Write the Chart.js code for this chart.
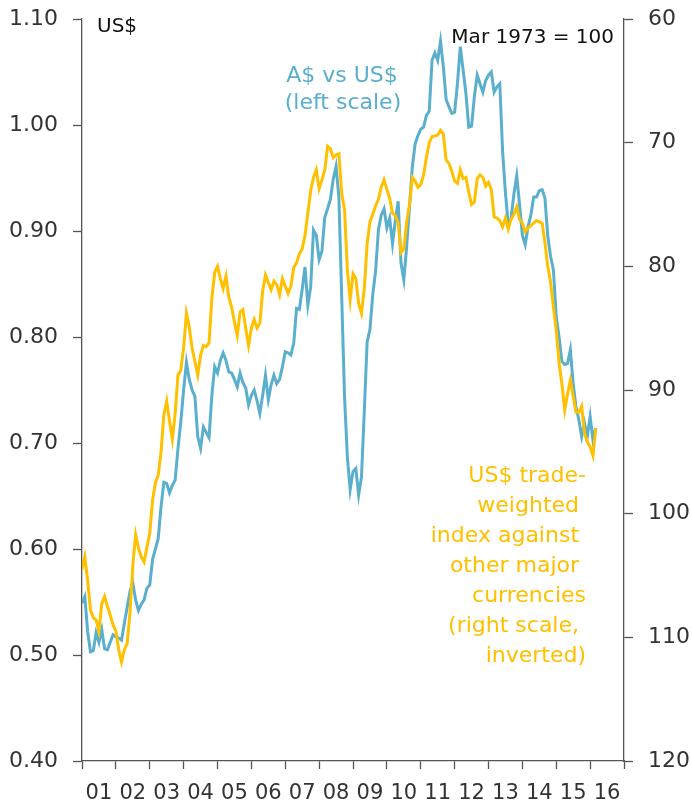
<!DOCTYPE html>
<html>
<head>
<meta charset="utf-8">
<script src="https://cdn.jsdelivr.net/npm/chart.js@4.4.1/dist/chart.umd.min.js"></script>
<style>
  html, body { margin: 0; padding: 0; background: #ffffff; }
  canvas { display: block; }
</style>
</head>
<body>
<canvas id="chart" width="692" height="807"></canvas>
<script>
// Monthly observations, January 2001 onwards
const startYear = 2001;

// A$ vs US$ (left scale, US$ per A$)
const audUsd = [
  0.549, 0.555, 0.522, 0.503, 0.504, 0.521, 0.512, 0.524, 0.506, 0.505, 0.512, 0.519,
  0.517, 0.516, 0.514, 0.530, 0.545, 0.560, 0.568, 0.552, 0.542, 0.548, 0.552, 0.563,
  0.566, 0.590, 0.600, 0.610, 0.640, 0.663, 0.662, 0.653, 0.660, 0.665, 0.695, 0.720,
  0.750, 0.776, 0.760, 0.750, 0.744, 0.706, 0.695, 0.715, 0.710, 0.705, 0.745, 0.772,
  0.766, 0.778, 0.785, 0.778, 0.767, 0.766, 0.760, 0.753, 0.766, 0.757, 0.752, 0.736,
  0.745, 0.750, 0.740, 0.728, 0.745, 0.764, 0.741, 0.755, 0.764, 0.756, 0.760, 0.772,
  0.786, 0.785, 0.783, 0.794, 0.827, 0.826, 0.845, 0.866, 0.830, 0.847, 0.901, 0.896,
  0.873, 0.881, 0.913, 0.921, 0.930, 0.949, 0.961, 0.932, 0.838, 0.744, 0.687, 0.656,
  0.673, 0.676, 0.651, 0.668, 0.730, 0.795, 0.807, 0.840, 0.862, 0.901, 0.915, 0.921,
  0.903, 0.912, 0.888, 0.910, 0.928, 0.870, 0.854, 0.885, 0.922, 0.960, 0.982, 0.990,
  0.996, 0.998, 1.009, 1.013, 1.061, 1.068, 1.061, 1.079, 1.055, 1.024, 1.017, 1.011,
  1.012, 1.039, 1.074, 1.052, 1.030, 0.998, 0.999, 1.027, 1.047, 1.039, 1.031, 1.042,
  1.047, 1.050, 1.031, 1.036, 1.039, 0.975, 0.936, 0.906, 0.912, 0.935, 0.952, 0.925,
  0.896, 0.887, 0.904, 0.915, 0.932, 0.932, 0.938, 0.939, 0.931, 0.895, 0.876, 0.863,
  0.819, 0.800, 0.777, 0.774, 0.775, 0.788, 0.756, 0.734, 0.722, 0.706, 0.719, 0.706,
  0.725, 0.703, 0.714
];

// US$ trade-weighted index against other major currencies (Mar 1973 = 100), right scale inverted
const usdTwi = [
  104.5, 103.5, 105.4, 107.8, 108.4, 108.6, 109.5, 107.3, 106.7, 107.5, 108.2, 109.0,
  109.5, 111.0, 112.0, 111.0, 110.5, 108.0, 104.2, 101.7, 102.8, 103.5, 103.9, 102.7,
  101.6, 98.9, 97.5, 96.9, 95.0, 92.0, 90.9, 92.5, 94.0, 91.9, 88.8, 88.4,
  86.6, 83.8, 84.9, 86.6, 87.7, 88.8, 87.2, 86.4, 86.5, 86.2, 82.6, 80.5,
  80.0, 81.0, 81.8, 80.8, 82.5, 83.3, 84.5, 85.6, 83.7, 83.5, 85.0, 86.4,
  85.0, 84.3, 85.0, 84.6, 82.0, 80.7, 81.3, 81.9, 81.2, 81.5, 82.3, 81.0,
  81.6, 82.2, 81.6, 80.1, 79.7, 79.0, 78.6, 77.5, 75.7, 73.9, 72.8, 72.2,
  73.7, 73.0, 72.2, 70.3, 70.5, 71.2, 71.0, 70.9, 74.1, 75.4, 80.3, 82.7,
  80.6, 81.0, 83.0, 83.8, 81.8, 78.2, 76.4, 75.8, 75.1, 74.6, 73.6, 73.0,
  73.8, 74.5, 75.7, 75.9, 76.5, 78.9, 78.6, 76.5, 75.0, 72.8, 73.1, 73.6,
  73.4, 72.6, 71.2, 70.0, 69.5, 69.45, 69.4, 69.0, 69.3, 71.4, 71.7, 72.3,
  73.1, 73.3, 72.2, 72.9, 72.8, 74.0, 75.0, 74.8, 72.9, 72.6, 72.8, 73.5,
  73.2, 73.8, 76.0, 76.1, 76.3, 76.8, 76.1, 77.0, 76.2, 75.8, 75.2, 76.2,
  76.5, 77.2, 76.9, 76.7, 76.5, 76.3, 76.4, 76.5, 78.1, 80.0, 81.3, 83.3,
  85.2, 87.8, 89.5, 91.6, 90.3, 89.2, 90.5, 91.8, 91.8, 91.3, 93.5, 94.2,
  94.6, 95.3, 93.1
];

// Axis labels
const yearLabels = ['01','02','03','04','05','06','07','08','09','10','11','12','13','14','15','16'];
const leftTicks = [0.40, 0.50, 0.60, 0.70, 0.80, 0.90, 1.00, 1.10];
const rightTicks = [60, 70, 80, 90, 100, 110, 120];

const BLUE = '#5aafcc';
const GOLD = '#ffc000';
const AXIS = '#555555';
const TEXT = '#333333';
const FONT = '"DejaVu Sans", sans-serif';

const toPoints = arr => arr.map((v, i) => ({ x: startYear + i / 12, y: v }));

// Fixed axis box sizes so the plotting area sits where intended
const fixBox = (w, h) => s => {
  if (w !== null) s.width = w;
  if (h !== null) s.height = h;
  s.paddingTop = 0; s.paddingBottom = 0; s.paddingLeft = 0; s.paddingRight = 0;
};

// Free-floating series labels and unit notes
const notes = {
  id: 'notes',
  afterDraw(chart) {
    const { ctx, chartArea: a } = chart;
    ctx.save();
    ctx.textBaseline = 'alphabetic';

    ctx.fillStyle = '#111111';
    ctx.font = '20px ' + FONT;
    ctx.textAlign = 'left';
    ctx.fillText('US$', a.left + 15, a.top + 13);
    ctx.textAlign = 'right';
    ctx.fillText('Mar 1973 = 100', a.right - 10, a.top + 24);

    ctx.font = '22px ' + FONT;
    ctx.fillStyle = BLUE;
    ctx.textAlign = 'center';
    ctx.fillText('A$ vs US$', 342, 82);
    ctx.fillText('(left scale)', 343, 109);

    ctx.fillStyle = GOLD;
    ctx.textAlign = 'right';
    const lines = ['US$ trade-', 'weighted ', 'index against ', 'other major ', 'currencies', '(right scale, ', 'inverted)'];
    lines.forEach((t, i) => ctx.fillText(t, 586, 482 + i * 30));
    ctx.restore();
  }
};

new Chart(document.getElementById('chart'), {
  type: 'line',
  data: {
    datasets: [
      {
        label: 'US$ TWI',
        data: toPoints(usdTwi),
        yAxisID: 'yR',
        borderColor: GOLD,
        borderWidth: 3,
        pointRadius: 0,
        tension: 0,
        fill: false
      },
      {
        label: 'A$ vs US$',
        data: toPoints(audUsd),
        yAxisID: 'yL',
        borderColor: BLUE,
        borderWidth: 3,
        pointRadius: 0,
        tension: 0,
        fill: false
      }
    ]
  },
  options: {
    responsive: false,
    animation: false,
    devicePixelRatio: 1,
    layout: { padding: { top: 19, left: 0, right: 0, bottom: 0 } },
    plugins: { legend: { display: false }, tooltip: { enabled: false } },
    scales: {
      x: {
        type: 'linear',
        min: startYear,
        max: startYear + yearLabels.length,
        afterBuildTicks: s => {
          const t = [];
          for (let i = 0; i <= yearLabels.length; i++) t.push({ value: startYear + i });
          for (let i = 0; i < yearLabels.length; i++) t.push({ value: startYear + i + 0.5 });
          t.sort((p, q) => p.value - q.value);
          s.ticks = t;
        },
        afterFit: fixBox(null, 46),
        ticks: {
          autoSkip: false,
          maxRotation: 0,
          padding: 12,
          color: TEXT,
          font: { family: FONT, size: 21 },
          callback: v => {
            const k = v - startYear - 0.5;
            return Number.isInteger(k) ? yearLabels[k] : '';
          }
        },
        grid: {
          drawOnChartArea: false,
          tickLength: 8,
          tickWidth: 1.3,
          tickColor: c => (c.tick && Number.isInteger(c.tick.value)) ? AXIS : 'rgba(0,0,0,0)'
        },
        border: { display: true, color: AXIS, width: 1.3 }
      },
      yL: {
        type: 'linear',
        position: 'left',
        min: 0.4,
        max: 1.1,
        afterBuildTicks: s => { s.ticks = leftTicks.map(v => ({ value: v })); },
        afterFit: fixBox(82, null),
        ticks: {
          padding: 15,
          color: TEXT,
          font: { family: FONT, size: 22 },
          callback: v => Number(v).toFixed(2)
        },
        grid: { drawOnChartArea: false, tickLength: 9, tickWidth: 1.3, color: AXIS },
        border: { display: true, color: AXIS, width: 1.3 }
      },
      yR: {
        type: 'linear',
        position: 'right',
        reverse: true,
        min: 60,
        max: 120,
        afterBuildTicks: s => { s.ticks = rightTicks.map(v => ({ value: v })); },
        afterFit: fixBox(68, null),
        ticks: {
          padding: 15,
          color: TEXT,
          font: { family: FONT, size: 22 },
          callback: v => String(v)
        },
        grid: { drawOnChartArea: false, tickLength: 9, tickWidth: 1.3, color: AXIS },
        border: { display: true, color: AXIS, width: 1.3 }
      }
    }
  },
  plugins: [notes]
});
</script>
</body>
</html>
